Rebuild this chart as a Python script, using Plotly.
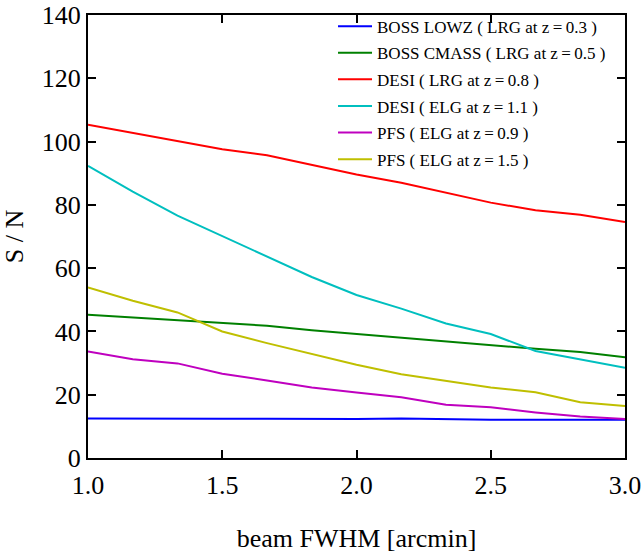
import plotly.graph_objects as go

beam_fwhm = [1.0, 1.1667, 1.3333, 1.5, 1.6667, 1.8333, 2.0, 2.1667, 2.3333, 2.5, 2.6667, 2.8333, 3.0]

boss_lowz = [12.5, 12.4, 12.4, 12.4, 12.4, 12.3, 12.3, 12.5, 12.2, 12.1, 12.1, 12.1, 12.1]
boss_cmass = [45.3, 44.4, 43.4, 42.5, 41.8, 40.4, 39.2, 38.0, 37.0, 35.7, 34.5, 33.5, 31.8]
desi_lrg = [105.3, 102.8, 100.1, 97.6, 95.7, 92.6, 89.6, 87.0, 83.8, 80.7, 78.3, 76.9, 74.6]
desi_elg = [92.3, 84.2, 76.6, 70.1, 63.5, 57.2, 51.5, 47.2, 42.5, 39.2, 33.8, 31.1, 28.5]
pfs_elg_09 = [33.7, 31.2, 29.9, 26.6, 24.5, 22.3, 20.7, 19.2, 16.8, 16.0, 14.4, 13.1, 12.3]
pfs_elg_15 = [53.9, 49.7, 46.0, 40.0, 36.3, 32.8, 29.5, 26.5, 24.3, 22.3, 20.8, 17.6, 16.4]

series_names = [
    "BOSS LOWZ ( LRG at z\u2009=\u20090.3 )",
    "BOSS CMASS ( LRG at z\u2009=\u20090.5 )",
    "DESI ( LRG at z\u2009=\u20090.8 )",
    "DESI ( ELG at z\u2009=\u20091.1 )",
    "PFS ( ELG at z\u2009=\u20090.9 )",
    "PFS ( ELG at z\u2009=\u20091.5 )",
]
series_values = [boss_lowz, boss_cmass, desi_lrg, desi_elg, pfs_elg_09, pfs_elg_15]
series_colors = ["#0000ff", "#008000", "#ff0000", "#00bfbf", "#bf00bf", "#bfbf00"]

x_ticks = [1.0, 1.5, 2.0, 2.5, 3.0]
x_ticklabels = ["1.0", "1.5", "2.0", "2.5", "3.0"]
y_ticks = [0, 20, 40, 60, 80, 100, 120, 140]

fig = go.Figure()
for i, (name, vals, col) in enumerate(zip(series_names, series_values, series_colors)):
    fig.add_trace(go.Scatter(x=beam_fwhm, y=vals, mode="lines", name=name,
                             legendgroup=f"g{i}",
                             line=dict(color=col, width=2)))

font_family = "Liberation Serif"
axis_common = dict(
    showline=True, linecolor="black", linewidth=2, mirror="ticks",
    ticks="inside", ticklen=8, tickwidth=2, tickcolor="black",
    showgrid=False, zeroline=False, automargin=False,
    tickfont=dict(family=font_family, size=26, color="black"),
)

fig.update_layout(
    width=643, height=558,
    margin=dict(l=88, r=18, t=15, b=100, autoexpand=False),
    paper_bgcolor="white", plot_bgcolor="white",
    font=dict(family=font_family, color="black"),
    xaxis=dict(range=[1.0, 3.0], tickvals=x_ticks, ticktext=x_ticklabels,
               ticklabelstandoff=3,
               title=dict(text="beam FWHM [arcmin]", font=dict(size=26, family=font_family), standoff=30),
               **axis_common),
    yaxis=dict(range=[0, 140], tickvals=y_ticks,
               title=dict(text="S / N", font=dict(size=26, family=font_family), standoff=14),
               **axis_common),
    legend=dict(xref="container", yref="container", x=0.5179, y=0.9846,
                xanchor="left", yanchor="top",
                bgcolor="rgba(0,0,0,0)", borderwidth=0,
                font=dict(family=font_family, size=17, color="black"),
                itemwidth=34, tracegroupgap=1.5),
    showlegend=True,
)

fig.write_html("out.html")
